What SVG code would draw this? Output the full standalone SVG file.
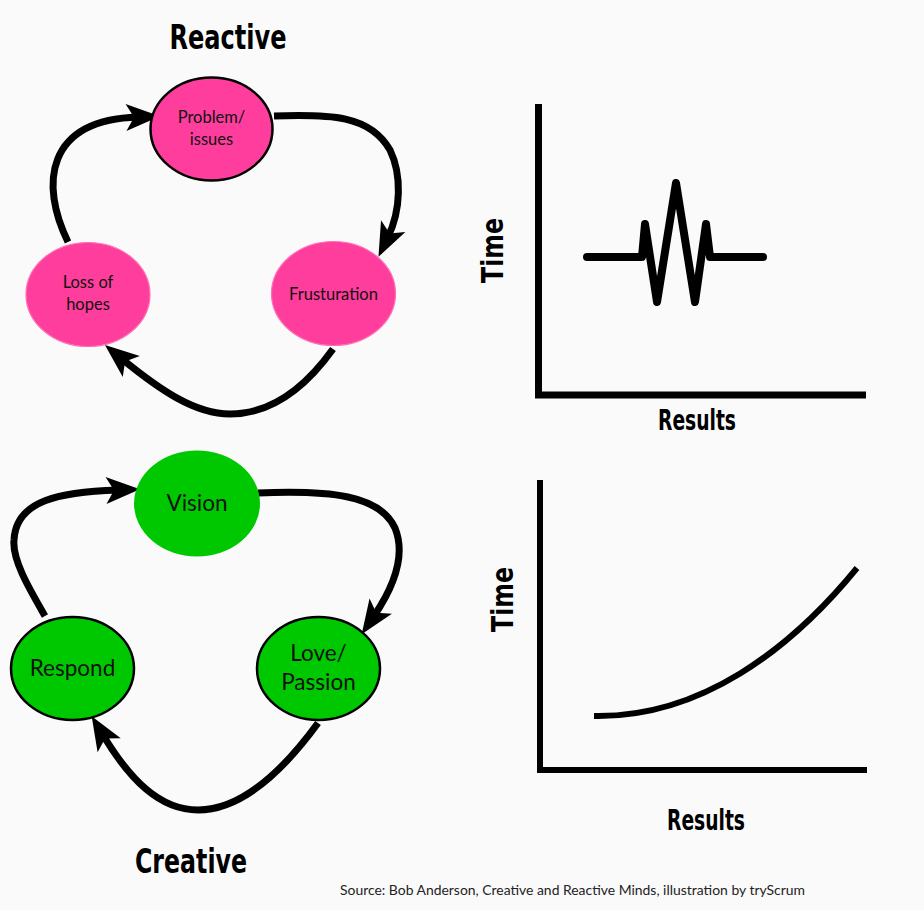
<svg xmlns="http://www.w3.org/2000/svg" width="924" height="910" viewBox="0 0 924 910">
<defs>
<style>
.title{font-family:"Liberation Sans Narrow","DejaVu Sans Condensed","Liberation Sans",sans-serif;font-weight:bold;fill:#000;text-anchor:middle}
.lbl{font-family:Lato,"Open Sans","Liberation Sans",sans-serif;fill:#111;text-anchor:middle}
.s15{font-size:16.5px}
.s20{font-size:22.5px}
.pink{fill:#ff3d9c}
.green{fill:#00c800}
.blk{stroke:#000;stroke-width:2.5}
.soft{stroke:#ff6fb6;stroke-width:1.2}
.conn{fill:none;stroke:#000;stroke-width:7;stroke-linecap:butt;marker-end:url(#ah)}
.axis{fill:none;stroke:#000;stroke-linejoin:miter;stroke-linecap:butt}
</style>
<marker id="ah" markerUnits="userSpaceOnUse" markerWidth="60" markerHeight="60" viewBox="-20 -20 60 40" refX="0" refY="0" orient="auto" overflow="visible">
<path d="M22,0 L-12,-13.5 L-4,0 L-12,13.5 Z" fill="#000"/>
</marker>
</defs>
<rect x="0" y="0" width="924" height="910" fill="#fafafa"/>

<text class="title" x="228" y="49" font-size="34" textLength="117" lengthAdjust="spacingAndGlyphs">Reactive</text>
<text class="title" x="191" y="873" font-size="34" textLength="112" lengthAdjust="spacingAndGlyphs">Creative</text>

<g id="connectors">
<path class="conn" d="M68,242 C40,185 45,120 138,117"/>
<path class="conn" d="M274,116 C330,114 370,115 390,150 C402,175 401,210 388,237"/>
<path class="conn" d="M333,349 C300,395 265,414 230,414 C195,414 160,390 122,359"/>
<path class="conn" d="M45,616 C30,590 12,560 14,540 C16,500 60,492 118,490"/>
<path class="conn" d="M258,493 C330,490 380,495 395,528 C406,555 395,585 374,616"/>
<path class="conn" d="M318,723 C280,775 240,810 198,810 C160,810 130,780 103,735"/>
</g>

<g id="problem">
<ellipse class="pink blk" cx="211.5" cy="129" rx="61" ry="51.5"/>
<text class="lbl s15" x="211.5" y="123">Problem/</text>
<text class="lbl s15" x="211.5" y="145">issues</text>
</g>
<g id="frusturation">
<ellipse class="pink soft" cx="333.5" cy="293.5" rx="62" ry="52"/>
<text class="lbl s15" x="333.5" y="300">Frusturation</text>
</g>
<g id="loss">
<ellipse class="pink soft" cx="88" cy="294.5" rx="62" ry="52"/>
<text class="lbl s15" x="88" y="288">Loss of</text>
<text class="lbl s15" x="88" y="310">hopes</text>
</g>

<g id="vision">
<ellipse class="green" cx="197" cy="503.5" rx="63" ry="53"/>
<text class="lbl s20" x="197" y="511">Vision</text>
</g>
<g id="love">
<ellipse class="green blk" cx="318.5" cy="668.5" rx="61.5" ry="51.5"/>
<text class="lbl s20" x="318.5" y="661">Love/</text>
<text class="lbl s20" x="318.5" y="690">Passion</text>
</g>
<g id="respond">
<ellipse class="green blk" cx="72.5" cy="668.5" rx="61.5" ry="51.5"/>
<text class="lbl s20" x="72.5" y="676">Respond</text>
</g>

<g id="chart-reactive">
<path class="axis" stroke-width="7" d="M538.5,104 V395 H866"/>
<path fill="none" stroke="#000" stroke-width="8" stroke-linecap="round" stroke-linejoin="round" d="M587,257 H642 L645,224 L657,302 L676,183 L695,302 L706,224 L710,257 H763"/>
<text class="title" font-size="30" transform="translate(503,250.5) rotate(-90)" textLength="65" lengthAdjust="spacingAndGlyphs">Time</text>
<text class="title" x="697" y="430" font-size="28" textLength="78" lengthAdjust="spacingAndGlyphs">Results</text>
</g>

<g id="chart-creative">
<path class="axis" stroke-width="6" d="M540,480 V770 H867"/>
<path fill="none" stroke="#000" stroke-width="6" d="M594,716 C700,718 790,650 857,568"/>
<text class="title" font-size="30" transform="translate(513,599.5) rotate(-90)" textLength="65" lengthAdjust="spacingAndGlyphs">Time</text>
<text class="title" x="706" y="830" font-size="28" textLength="78" lengthAdjust="spacingAndGlyphs">Results</text>
</g>

<text x="340" y="895" font-family="Lato,'Open Sans','Liberation Sans',sans-serif" font-size="13" fill="#222" textLength="465" lengthAdjust="spacingAndGlyphs">Source: Bob Anderson, Creative and Reactive Minds, illustration by tryScrum</text>
</svg>
